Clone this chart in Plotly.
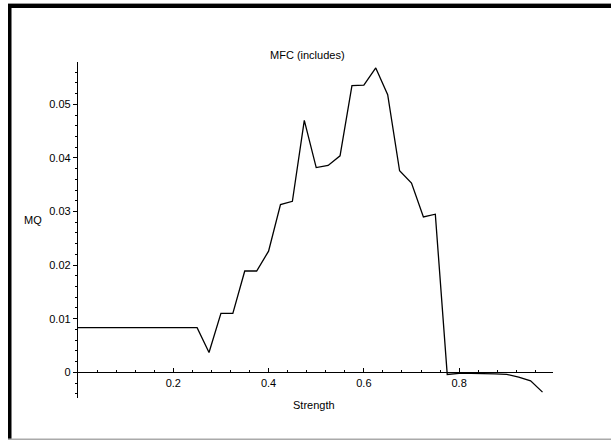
import plotly.graph_objects as go

strength = [0.0, 0.025, 0.05, 0.075, 0.1, 0.125, 0.15, 0.175, 0.2, 0.225,
            0.25, 0.275, 0.3, 0.325, 0.35, 0.375, 0.4, 0.425, 0.45, 0.475,
            0.5, 0.525, 0.55, 0.575, 0.6, 0.625, 0.65, 0.675, 0.7, 0.725,
            0.75, 0.775, 0.8, 0.825, 0.85, 0.875, 0.9, 0.925, 0.95, 0.975]
mq = [0.00833, 0.00833, 0.00833, 0.00833, 0.00833, 0.00833, 0.00833, 0.00833, 0.00833, 0.00833,
      0.00833, 0.0037, 0.0110, 0.0110, 0.0189, 0.0189, 0.0226, 0.0313, 0.0319, 0.0470,
      0.0382, 0.0386, 0.0404, 0.0535, 0.0536, 0.0568, 0.0518, 0.0376, 0.0353, 0.0290,
      0.0295, -0.0004, -0.0002, -0.0002, -0.0002, -0.0003, -0.0004, -0.0009, -0.0016, -0.0037]

x_ticks = [0.2, 0.4, 0.6, 0.8]
x_tick_labels = ["0.2", "0.4", "0.6", "0.8"]
y_ticks = [0, 0.01, 0.02, 0.03, 0.04, 0.05]
y_tick_labels = ["0", "0.01", "0.02", "0.03", "0.04", "0.05"]

title_text = "MFC (includes)"
x_title = "Strength"
y_title = "MQ"

W, H = 611, 440
L, R, T, B = 78, 58, 62, 42
pw, ph = W - L - R, H - T - B
xr = [0, 0.997]
yr = [-0.0048, 0.0579]


def px(p):
    return (p - L) / pw


def py(q):
    return (H - B - q) / ph


font = dict(family="Liberation Sans, Arial, sans-serif", size=11, color="black")

fig = go.Figure()
fig.add_trace(go.Scatter(x=strength, y=mq, mode="lines",
                         line=dict(color="black", width=1.3), showlegend=False,
                         hoverinfo="skip"))

x_pos = (0 - yr[0]) / (yr[1] - yr[0])

fig.update_layout(
    width=W, height=H,
    margin=dict(l=L, r=R, t=T, b=B, pad=0),
    paper_bgcolor="white", plot_bgcolor="white",
    font=font,
    xaxis=dict(range=xr, showgrid=False, zeroline=False, showline=True,
               linecolor="black", linewidth=1.3,
               anchor="free", position=x_pos,
               tickmode="array", tickvals=x_ticks, ticktext=x_tick_labels,
               ticks="inside", ticklen=4, tickcolor="black", tickwidth=1,
               minor=dict(tickmode="linear", tick0=0, dtick=0.04, ticks="inside",
                          ticklen=2, tickcolor="black", tickwidth=1, showgrid=False),
               tickfont=font),
    yaxis=dict(range=yr, showgrid=False, zeroline=False, showline=True,
               linecolor="black", linewidth=1.3,
               tickmode="array", tickvals=y_ticks, ticktext=y_tick_labels,
               ticks="outside", ticklen=4, tickcolor="black", tickwidth=1,
               minor=dict(tickmode="linear", tick0=0, dtick=0.002, ticks="outside",
                          ticklen=2, tickcolor="black", tickwidth=1, showgrid=False),
               tickfont=font),
    annotations=[
        dict(text=title_text, x=px(307), y=py(55), xref="paper", yref="paper",
             showarrow=False, font=font, xanchor="center", yanchor="middle"),
        dict(text=y_title, x=px(33), y=py(220), xref="paper", yref="paper",
             showarrow=False, font=font, xanchor="center", yanchor="middle"),
        dict(text=x_title, x=px(314), y=py(405), xref="paper", yref="paper",
             showarrow=False, font=font, xanchor="center", yanchor="middle"),
    ],
    shapes=[
        dict(type="rect", xref="paper", yref="paper", x0=px(8), x1=px(11.5),
             y0=py(4), y1=py(440), fillcolor="black", line=dict(width=0), layer="above"),
        dict(type="rect", xref="paper", yref="paper", x0=px(8), x1=px(611),
             y0=py(4), y1=py(8), fillcolor="black", line=dict(width=0), layer="above"),
        dict(type="rect", xref="paper", yref="paper", x0=px(8), x1=px(611),
             y0=py(3), y1=py(4), fillcolor="#999999", line=dict(width=0), layer="above"),
        dict(type="rect", xref="paper", yref="paper", x0=px(8), x1=px(611),
             y0=py(438.5), y1=py(440), fillcolor="#aaaaaa", line=dict(width=0), layer="above"),
    ],
)

fig.write_html("out.html", config={"displayModeBar": False},
               post_script="document.body.style.margin='0';document.body.style.overflow='hidden';")
